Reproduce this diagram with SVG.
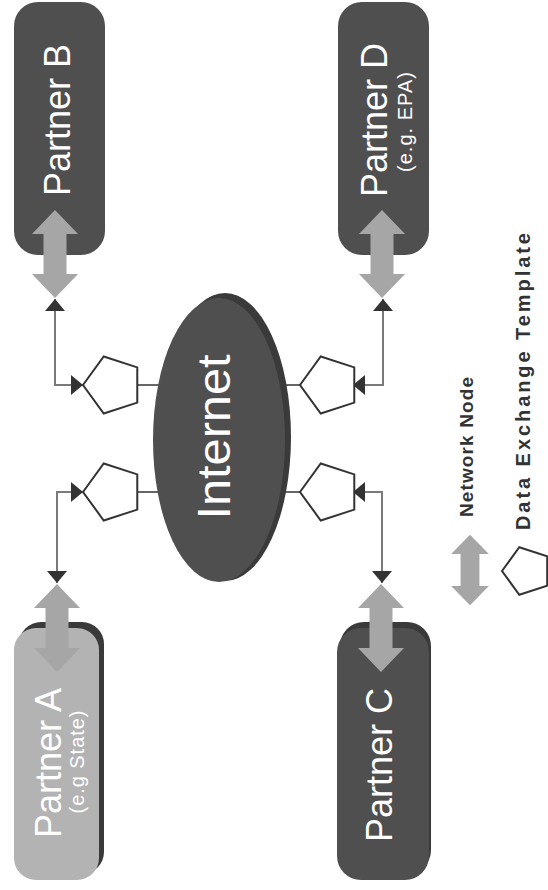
<svg xmlns="http://www.w3.org/2000/svg" width="548" height="890" viewBox="0 0 548 890">
<style>
.box{fill:#4f4f4f}
.boxlight{fill:#b3b3b3}
.shadow{fill:#3a3a3a}
.nn{fill:#a6a6a6}
.pent{fill:#ffffff;stroke:#333333;stroke-width:2;stroke-linejoin:miter}
.lbl{font-family:"Liberation Sans",Arial,sans-serif;fill:#ffffff}
.leg{font-family:"Liberation Sans",Arial,sans-serif;font-weight:bold;fill:#333333;font-size:19px}
.conn{fill:none;stroke:#7a7a7a;stroke-width:2}
.stub{fill:none;stroke:#666666;stroke-width:2}
</style>
<defs>
<path id="dbl" d="M0,-44 L23,-20 L11.5,-20 L11.5,20 L23,20 L0,44 L-23,20 L-11.5,20 L-11.5,-20 L-23,-20 Z"/>
<polygon id="pg" points="-30,0 -9.27,-28.53 24.27,-17.63 24.27,17.63 -9.27,28.53"/>
<marker id="tri" viewBox="0 0 12 20" refX="12" refY="10" markerWidth="12" markerHeight="20" markerUnits="userSpaceOnUse" orient="auto-start-reverse">
<path d="M0,0 L12,10 L0,20 Z" fill="#333333"/>
</marker>
</defs>
<rect width="548" height="890" fill="#ffffff"/>

<g id="connectors">
<path class="conn" d="M83,385 L55,385 L55,299" marker-start="url(#tri)" marker-end="url(#tri)"/>
<path class="conn" d="M83,492 L57,492 L57,583" marker-start="url(#tri)" marker-end="url(#tri)"/>
<path class="conn" d="M353,385 L383,385 L383,299" marker-start="url(#tri)" marker-end="url(#tri)"/>
<path class="conn" d="M353,492 L382,492 L382,583" marker-start="url(#tri)" marker-end="url(#tri)"/>
<line class="stub" x1="137" y1="385" x2="160" y2="385"/>
<line class="stub" x1="137" y1="492" x2="160" y2="492"/>
<line class="stub" x1="284" y1="385" x2="300" y2="385"/>
<line class="stub" x1="284" y1="492" x2="300" y2="492"/>
</g>

<g id="internet">
<ellipse class="shadow" cx="225" cy="437" rx="66" ry="144"/>
<ellipse class="box" cx="219" cy="440" rx="66" ry="142"/>
<text class="lbl" font-size="47" text-anchor="middle" textLength="165" lengthAdjust="spacingAndGlyphs" transform="translate(230,437) rotate(-90)">Internet</text>
</g>

<g id="partner-b">
<rect class="box" x="14" y="2" width="91" height="253" rx="24"/>
<text class="lbl" font-size="36" text-anchor="middle" transform="translate(70,120) rotate(-90)">Partner B</text>
<use href="#dbl" class="nn" transform="translate(55,254)"/>
</g>

<g id="partner-d">
<rect class="box" x="338" y="2" width="91" height="253" rx="24"/>
<text class="lbl" font-size="36" text-anchor="middle" transform="translate(387,120) rotate(-90)">Partner D</text>
<text class="lbl" font-size="20" text-anchor="middle" textLength="100" lengthAdjust="spacing" transform="translate(412,122) rotate(-90)">(e.g. EPA)</text>
<use href="#dbl" class="nn" transform="translate(382,254)"/>
</g>

<g id="partner-a">
<rect class="shadow" x="19" y="622" width="85" height="252" rx="22"/>
<rect class="boxlight" x="14" y="628" width="85" height="252" rx="22"/>
<text class="lbl" font-size="36" text-anchor="middle" transform="translate(61,763) rotate(-90)">Partner A</text>
<text class="lbl" font-size="20" text-anchor="middle" textLength="103" lengthAdjust="spacing" transform="translate(84,762) rotate(-90)">(e.g State)</text>
<use href="#dbl" class="nn" transform="translate(57,628)"/>
</g>

<g id="partner-c">
<rect class="shadow" x="340" y="622" width="91" height="252" rx="24"/>
<rect class="box" x="337" y="628" width="92" height="252" rx="24"/>
<text class="lbl" font-size="36" text-anchor="middle" transform="translate(392,765) rotate(-90)">Partner C</text>
<use href="#dbl" class="nn" transform="translate(381,628)"/>
</g>

<g id="template-ul"><use href="#pg" class="pent" transform="translate(113,385)"/></g>
<g id="template-ll"><use href="#pg" class="pent" transform="translate(113,492)"/></g>
<g id="template-ur"><use href="#pg" class="pent" transform="translate(330,385)"/></g>
<g id="template-lr"><use href="#pg" class="pent" transform="translate(330,492)"/></g>

<g id="legend">
<use href="#dbl" class="nn" transform="translate(470,570) scale(0.82,0.8)"/>
<polygon class="pent" points="502,571 519.3,547.2 547.2,556.3 547.2,585.7 519.3,594.8"/>
<text class="leg" textLength="140" lengthAdjust="spacing" transform="translate(473,517) rotate(-90)">Network Node</text>
<text class="leg" font-size="20" textLength="297" lengthAdjust="spacing" transform="translate(530,530) rotate(-90)" style="font-size:20px">Data Exchange Template</text>
</g>
</svg>
